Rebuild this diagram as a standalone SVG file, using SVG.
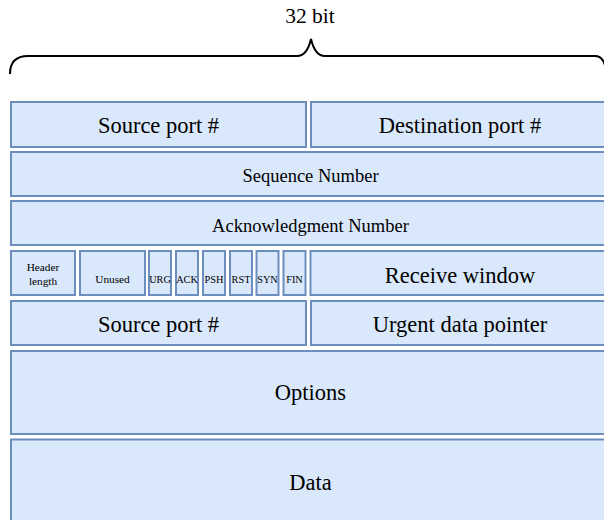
<svg xmlns="http://www.w3.org/2000/svg" width="604" height="520" viewBox="0 0 604 520" font-family="'Liberation Serif', 'DejaVu Serif', serif">
<style>
.b{fill:#dae8fc;stroke:#6c8ebf;stroke-width:2}
text{font-family:'Liberation Serif','DejaVu Serif',serif;fill:#000;text-anchor:middle}
.L{font-size:22.5px}
.M{font-size:18.5px}
.S{font-size:11.3px}
.F{font-size:10.3px}
</style>
<rect width="604" height="520" fill="#fff"/>
<g id="brace">
<path d="M10,74 Q10,56 28,56 L297,56 Q307,56 311,39 Q315,56 325,56 L595,56 Q604,56 606,70" fill="none" stroke="#000" stroke-width="2"/>
<text class="L" x="310" y="23" style="font-size:21.5px">32 bit</text>
</g>
<g id="source-port"><rect class="b" x="11" y="102" width="295" height="45"/><text class="L" x="158.5" y="133">Source port #</text></g>
<g id="dest-port"><rect class="b" x="311" y="102" width="299" height="45"/><text class="L" x="460" y="133">Destination port #</text></g>
<g id="seq"><rect class="b" x="11" y="152" width="599" height="44"/><text class="M" x="310.5" y="182">Sequence Number</text></g>
<g id="ack"><rect class="b" x="11" y="201" width="599" height="44"/><text class="M" x="310.5" y="232">Acknowledgment Number</text></g>
<g id="header-length"><rect class="b" x="11" y="251" width="64" height="44"/><text class="S" x="43" y="270.5">Header</text><text class="S" x="43" y="285">length</text></g>
<g id="unused"><rect class="b" x="80" y="251" width="65" height="44"/><text class="S" x="112.5" y="283">Unused</text></g>
<g id="urg"><rect class="b" x="149" y="251" width="22" height="44"/><text class="F" x="160" y="283">URG</text></g>
<g id="ack-flag"><rect class="b" x="176" y="251" width="22" height="44"/><text class="F" x="187" y="283">ACK</text></g>
<g id="psh"><rect class="b" x="203" y="251" width="22" height="44"/><text class="F" x="214" y="283">PSH</text></g>
<g id="rst"><rect class="b" x="230" y="251" width="22" height="44"/><text class="F" x="241" y="283">RST</text></g>
<g id="syn"><rect class="b" x="256.5" y="251" width="22" height="44"/><text class="F" x="267.5" y="283">SYN</text></g>
<g id="fin"><rect class="b" x="283.5" y="251" width="22" height="44"/><text class="F" x="294.5" y="283">FIN</text></g>
<g id="receive-window"><rect class="b" x="310.5" y="251" width="299.5" height="44"/><text class="L" x="460" y="282.5">Receive window</text></g>
<g id="source-port-2"><rect class="b" x="11" y="301" width="295" height="44"/><text class="L" x="158.5" y="331.5">Source port #</text></g>
<g id="urgent"><rect class="b" x="311" y="301" width="299" height="44"/><text class="L" x="460" y="331.5">Urgent data pointer</text></g>
<g id="options"><rect class="b" x="11" y="351" width="599" height="83"/><text class="L" x="310.5" y="400">Options</text></g>
<g id="data"><rect class="b" x="11" y="439.5" width="599" height="90"/><text class="L" x="310.5" y="490">Data</text></g>
<g id="connectors"></g>
</svg>
